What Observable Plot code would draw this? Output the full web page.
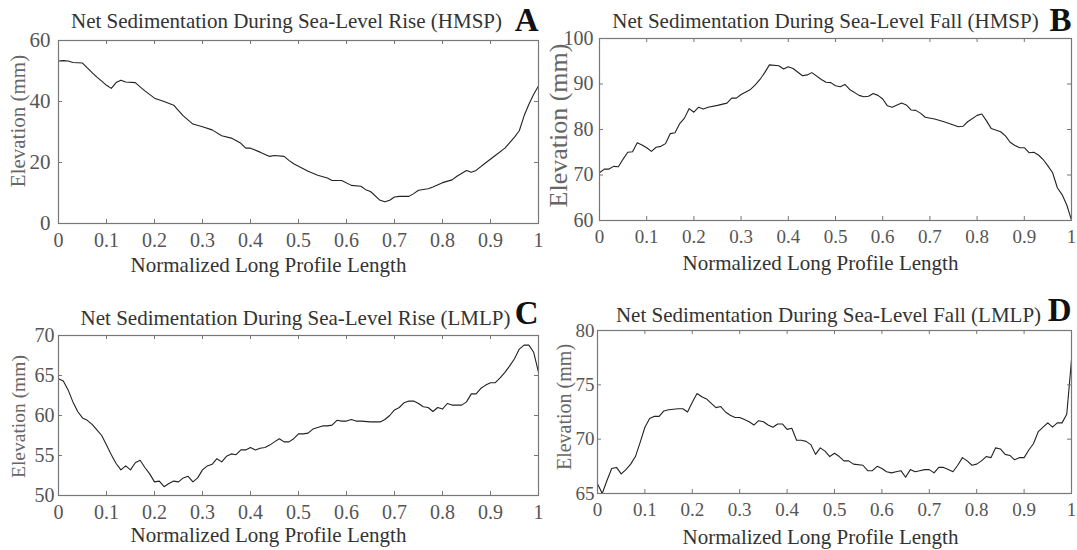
<!DOCTYPE html>
<html>
<head>
<meta charset="utf-8">
<script src="https://cdn.jsdelivr.net/npm/d3@7"></script>
<script src="https://cdn.jsdelivr.net/npm/@observablehq/plot@0.6"></script>
<style>
  html, body { margin: 0; padding: 0; background: #fff; }
  #fig { position: relative; width: 1077px; height: 550px; background: #fff; overflow: hidden; }
  #fig svg { position: absolute; font-family: "Liberation Serif", "Times New Roman", Times, serif; }
</style>
</head>
<body>
<div id="fig"></div>
<script>
// ---------- data ----------
const xTicks = [0, 0.1, 0.2, 0.3, 0.4, 0.5, 0.6, 0.7, 0.8, 0.9, 1];
const xLabel = "Normalized Long Profile Length";
const yLabel = "Elevation (mm)";

const titleA = "Net Sedimentation During Sea-Level Rise (HMSP)";
const titleB = "Net Sedimentation During Sea-Level Fall (HMSP)";
const titleC = "Net Sedimentation During Sea-Level Rise (LMLP)";
const titleD = "Net Sedimentation During Sea-Level Fall (LMLP)";

const yTicksA = [0, 20, 40, 60];
const yTicksB = [60, 70, 80, 90, 100];
const yTicksC = [50, 55, 60, 65, 70];
const yTicksD = [65, 70, 75, 80];

const profileA_x = [0,0.01,0.02,0.03,0.05,0.06,0.07,0.08,0.09,0.10,0.11,0.12,0.13,0.14,0.16,0.17,0.18,0.20,0.22,0.24,0.25,0.26,0.28,0.30,0.32,0.34,0.36,0.38,0.39,0.40,0.42,0.44,0.45,0.47,0.48,0.49,0.50,0.52,0.54,0.56,0.57,0.59,0.61,0.63,0.64,0.65,0.67,0.68,0.69,0.70,0.71,0.73,0.74,0.75,0.77,0.78,0.80,0.82,0.83,0.85,0.86,0.87,0.89,0.91,0.93,0.95,0.96,0.97,0.98,0.99,1.00];
const profileA_y = [53.3,53.4,53.3,52.8,52.6,51.0,49.5,48.0,46.7,45.3,44.3,46.2,47.0,46.4,46.2,44.8,43.5,41.1,40.0,38.8,37.0,35.3,32.6,31.7,30.7,28.8,28.0,26.3,24.7,24.7,23.4,22.0,22.3,22.0,20.7,19.6,18.8,17.1,15.8,14.9,14.1,14.1,12.5,12.2,11.1,10.5,7.6,7.1,7.6,8.7,8.9,8.9,9.8,10.9,11.4,12.0,13.4,14.3,15.5,17.4,16.8,17.4,19.9,22.3,24.7,28.3,30.4,35.3,39.1,42.4,45.1];

const profileB_x = [0,0.01,0.02,0.03,0.04,0.05,0.06,0.07,0.08,0.09,0.10,0.11,0.12,0.13,0.14,0.15,0.16,0.17,0.18,0.19,0.20,0.21,0.22,0.23,0.25,0.27,0.28,0.29,0.30,0.32,0.33,0.34,0.35,0.36,0.38,0.39,0.40,0.41,0.43,0.44,0.45,0.47,0.48,0.49,0.50,0.51,0.52,0.53,0.55,0.56,0.57,0.58,0.59,0.60,0.61,0.62,0.64,0.65,0.66,0.67,0.68,0.69,0.71,0.73,0.75,0.76,0.77,0.78,0.80,0.81,0.82,0.83,0.85,0.86,0.87,0.88,0.89,0.90,0.91,0.92,0.93,0.94,0.95,0.96,0.97,0.98,0.99,1.00];
const profileB_y = [70.5,71.3,71.3,71.9,71.8,73.5,75.0,75.1,77.1,76.6,76.0,75.2,76.1,76.3,76.9,79.1,79.3,81.3,82.5,84.6,83.8,84.9,84.5,84.9,85.3,85.8,86.9,86.9,87.7,88.8,89.8,91.0,92.5,94.2,94.0,93.3,93.8,93.4,91.8,92.0,92.5,91.0,90.4,90.3,89.6,89.4,89.9,88.8,87.5,87.2,87.3,87.9,87.5,86.7,85.2,84.9,85.8,85.4,84.3,84.2,83.6,82.7,82.3,81.7,81.0,80.6,80.7,81.7,83.1,83.4,81.9,80.2,79.5,78.6,77.2,76.5,76.0,76.0,74.9,75.0,74.4,73.4,72.0,70.5,67.2,65.7,63.4,60.1];

const profileC_x = [0,0.01,0.02,0.03,0.04,0.05,0.06,0.07,0.08,0.09,0.10,0.11,0.12,0.13,0.14,0.15,0.16,0.17,0.18,0.19,0.20,0.21,0.22,0.23,0.24,0.25,0.26,0.27,0.28,0.29,0.30,0.31,0.32,0.33,0.34,0.35,0.36,0.37,0.38,0.39,0.40,0.41,0.42,0.43,0.44,0.45,0.46,0.47,0.48,0.49,0.50,0.51,0.52,0.53,0.54,0.55,0.56,0.57,0.58,0.59,0.60,0.61,0.62,0.63,0.65,0.67,0.68,0.69,0.70,0.71,0.72,0.73,0.74,0.75,0.76,0.77,0.78,0.79,0.80,0.81,0.82,0.84,0.85,0.86,0.87,0.88,0.89,0.90,0.91,0.92,0.93,0.94,0.95,0.96,0.97,0.98,0.99,1.00];
const profileC_y = [64.6,64.3,63.2,61.7,60.5,59.7,59.4,58.9,58.2,57.5,56.3,55.1,54.0,53.2,53.7,53.2,54.1,54.4,53.5,52.7,51.7,51.8,51.1,51.5,51.8,51.7,52.2,52.4,51.7,52.2,53.2,53.7,53.9,54.6,54.2,54.9,55.2,55.1,55.7,55.7,56.0,55.7,55.9,56.0,56.3,56.7,57.1,56.7,56.7,57.1,57.7,57.7,57.8,58.3,58.5,58.7,58.7,58.8,59.4,59.3,59.3,59.5,59.3,59.3,59.2,59.2,59.5,60.0,60.7,61.0,61.6,61.8,61.8,61.5,61.1,61.0,60.5,61.0,60.8,61.5,61.3,61.3,61.7,62.7,62.7,63.4,63.8,64.1,64.1,64.7,65.4,66.2,67.1,68.3,68.8,68.8,67.9,65.4];

const profileD_x = [0,0.01,0.02,0.03,0.04,0.05,0.06,0.07,0.08,0.09,0.10,0.11,0.12,0.13,0.14,0.15,0.17,0.18,0.19,0.20,0.21,0.22,0.23,0.24,0.25,0.26,0.27,0.28,0.29,0.30,0.31,0.32,0.33,0.34,0.35,0.36,0.37,0.38,0.39,0.40,0.41,0.42,0.43,0.44,0.45,0.46,0.47,0.48,0.49,0.50,0.51,0.52,0.53,0.54,0.56,0.57,0.58,0.59,0.60,0.61,0.62,0.63,0.64,0.65,0.66,0.67,0.68,0.69,0.70,0.71,0.72,0.73,0.74,0.75,0.76,0.77,0.78,0.79,0.80,0.81,0.82,0.83,0.84,0.85,0.86,0.87,0.88,0.89,0.90,0.91,0.92,0.93,0.94,0.95,0.96,0.97,0.98,0.99,1.00];
const profileD_y = [65.9,65.0,66.2,67.3,67.4,66.8,67.2,67.7,68.4,69.7,71.1,71.9,72.1,72.1,72.6,72.7,72.8,72.8,72.5,73.4,74.2,73.9,73.7,73.3,72.9,73.0,72.5,72.2,72.0,72.0,71.8,71.6,71.3,71.7,71.6,71.3,71.1,71.4,71.4,70.9,71.0,69.9,69.9,69.8,69.5,68.6,69.2,68.9,68.4,68.7,68.4,68.0,68.0,67.7,67.6,67.1,67.1,67.5,67.3,67.0,66.9,67.0,67.1,66.5,67.2,67.0,67.1,67.2,67.2,66.9,67.4,67.4,67.2,67.0,67.6,68.3,68.0,67.6,67.7,68.0,68.4,68.3,69.2,69.1,68.6,68.5,68.1,68.3,68.3,69.0,69.6,70.7,71.1,71.5,71.1,71.5,71.5,72.3,77.3];

// ---------- drawing ----------
const FONT = "'Liberation Serif', 'Times New Roman', Times, serif";

function panel(o) {
  const data = o.xs.map((d, i) => ({x: d, y: o.ys[i]}));
  const innerW = o.width - o.mL - o.mR;
  const innerH = o.height - o.mT - o.mB;
  const tickC = "#777";
  const svg = Plot.plot({
    width: o.width,
    height: o.height,
    marginLeft: o.mL, marginRight: o.mR, marginTop: o.mT, marginBottom: o.mB,
    style: {fontFamily: FONT, background: "transparent", overflow: "visible"},
    x: {domain: [0, 1], ticks: xTicks},
    y: {domain: o.yDomain, ticks: o.yTicks},
    marks: [
      Plot.line(data, {x: "x", y: "y", stroke: "#222", strokeWidth: 1.1}),
      Plot.frame({stroke: tickC, strokeWidth: 1.2}),
      Plot.tickX(xTicks, {x: d => d, insetTop: innerH - 4, stroke: tickC}),
      Plot.tickX(xTicks, {x: d => d, insetBottom: innerH - 4, stroke: tickC}),
      Plot.tickY(o.yTicks, {y: d => d, insetRight: innerW - 4, stroke: tickC}),
      Plot.tickY(o.yTicks, {y: d => d, insetLeft: innerW - 4, stroke: tickC}),
      Plot.axisX(xTicks, {tickSize: 0, tickPadding: o.xPad, fontSize: o.xTickFs, color: "#555", label: null, tickFormat: d => String(d)}),
      Plot.axisY(o.yTicks, {tickSize: 0, tickPadding: o.yPad, fontSize: o.yTickFs, color: "#555", label: null, tickFormat: d => String(d)}),
      Plot.text([xLabel], {frameAnchor: "bottom", textAnchor: "middle", lineAnchor: "middle", dx: o.xlDx, dy: o.xlDy, fontSize: 21, fill: "#333"}),
      Plot.text([yLabel], {frameAnchor: "left", textAnchor: "middle", lineAnchor: "middle", rotate: -90, dx: o.ylDx, dy: o.ylDy, fontSize: o.ylFs, fill: "#666"}),
      Plot.text([o.title], {frameAnchor: "top", textAnchor: "middle", lineAnchor: "middle", dx: o.tDx, dy: o.tDy, fontSize: 21, fill: "#333"}),
      Plot.text([o.letter], {frameAnchor: "top-right", textAnchor: "end", lineAnchor: "middle", dy: o.lDy, fontSize: 33, fontWeight: "bold", fill: "#111"})
    ]
  });
  svg.style.left = o.left + "px";
  svg.style.top = o.top + "px";
  return svg;
}

const fig = document.getElementById("fig");
fig.appendChild(panel({
  xs: profileA_x, ys: profileA_y, yDomain: [0, 60], yTicks: yTicksA, title: titleA, letter: "A",
  left: 0, top: 0, width: 540, height: 275, mL: 58, mR: 2, mT: 40, mB: 52,
  xPad: 9, xTickFs: 20, yPad: 8, yTickFs: 21,
  xlDx: -30, xlDy: 42, ylDx: -40, ylDy: -11, ylFs: 21,
  tDx: -12, tDy: -19, lDy: -20
}));
fig.appendChild(panel({
  xs: profileB_x, ys: profileB_y, yDomain: [60, 100], yTicks: yTicksB, title: titleB, letter: "B",
  left: 540, top: 0, width: 537, height: 275, mL: 59, mR: 6, mT: 38, mB: 55,
  xPad: 9, xTickFs: 19, yPad: 6, yTickFs: 20,
  xlDx: -15, xlDy: 43, ylDx: -41, ylDy: -4, ylFs: 26,
  tDx: -10, tDy: -17, lDy: -18
}));
fig.appendChild(panel({
  xs: profileC_x, ys: profileC_y, yDomain: [50, 70], yTicks: yTicksC, title: titleC, letter: "C",
  left: 0, top: 275, width: 540, height: 275, mL: 58, mR: 2, mT: 60, mB: 55,
  xPad: 9, xTickFs: 20, yPad: 4, yTickFs: 20,
  xlDx: -30, xlDy: 40, ylDx: -40, ylDy: 1, ylFs: 19.5,
  tDx: -3, tDy: -17, lDy: -22
}));
fig.appendChild(panel({
  xs: profileD_x, ys: profileD_y, yDomain: [65, 80], yTicks: yTicksD, title: titleD, letter: "D",
  left: 540, top: 275, width: 537, height: 275, mL: 57, mR: 6, mT: 55, mB: 57,
  xPad: 9, xTickFs: 19, yPad: 3, yTickFs: 19,
  xlDx: -14, xlDy: 44, ylDx: -33, ylDy: -5, ylFs: 20,
  tDx: -6, tDy: -15, lDy: -20
}));
</script>
</body>
</html>
